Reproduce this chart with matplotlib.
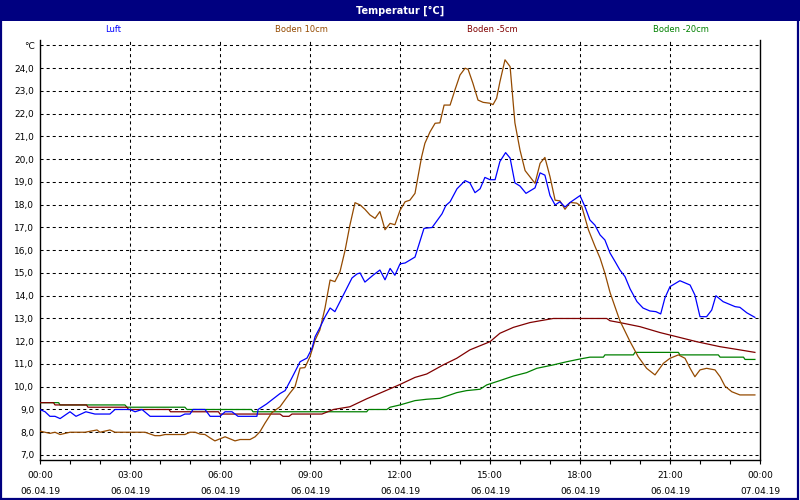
import matplotlib
matplotlib.use("Agg")
import matplotlib.pyplot as plt
from matplotlib.patches import Rectangle

# hours since 06.04.19 00:00 and temperatures in degC
luft_h = [0, 0.17, 0.33, 0.5, 0.67, 1.0, 1.2, 1.53, 1.83, 2.33, 2.5, 3.0, 3.17, 3.4, 3.67, 4.67,
          4.83, 5.0, 5.1, 5.5, 5.67, 6.0, 6.17, 6.4, 6.6, 7.23, 7.27, 7.55, 8.0, 8.17, 8.4, 8.67,
          8.9, 9.07, 9.17, 9.33, 9.5, 9.67, 9.83, 10.1, 10.4, 10.57, 10.67, 10.83, 11.1, 11.33,
          11.5, 11.67, 11.83, 12.0, 12.17, 12.5, 12.8, 13.07, 13.4, 13.53, 13.67, 13.9, 14.17,
          14.33, 14.5, 14.67, 14.83, 15.0, 15.17, 15.33, 15.52, 15.67, 15.83, 16.0, 16.2, 16.5,
          16.67, 16.83, 17.0, 17.17, 17.33, 17.5, 17.67, 18.0, 18.17, 18.33, 18.5, 18.67, 18.83,
          19.0, 19.17, 19.33, 19.5, 19.67, 19.9, 20.1, 20.33, 20.53, 20.69, 20.83, 21.0, 21.33,
          21.67, 21.83, 22.0, 22.22, 22.39, 22.53, 22.77, 23.17, 23.33, 23.56, 23.83]
luft_v = [9.0, 8.9, 8.7, 8.7, 8.6, 8.9, 8.7, 8.9, 8.8, 8.8, 9.0, 9.0, 8.9, 9.0, 8.7, 8.7,
          8.8, 8.8, 9.0, 9.0, 8.7, 8.7, 8.9, 8.9, 8.7, 8.7, 9.0, 9.24, 9.7, 9.83, 10.4, 11.1,
          11.26, 11.7, 12.2, 12.6, 13.07, 13.46, 13.3, 14.0, 14.78, 14.96, 15.0, 14.6, 14.9, 15.13,
          14.7, 15.2, 14.9, 15.4, 15.44, 15.7, 16.96, 17.0, 17.6, 17.97, 18.13, 18.7, 19.06,
          18.96, 18.53, 18.7, 19.2, 19.1, 19.1, 19.9, 20.29, 20.05, 18.96, 18.82, 18.5, 18.74,
          19.4, 19.3, 18.4, 17.99, 18.13, 17.9, 18.1, 18.4, 17.9, 17.33, 17.1, 16.67, 16.45,
          15.88, 15.5, 15.13, 14.84, 14.3, 13.74, 13.46, 13.33, 13.3, 13.2, 13.9, 14.4, 14.66,
          14.47, 14.03, 13.08, 13.08, 13.37, 14.0, 13.74, 13.52, 13.49, 13.25, 13.05]

boden10_h = [0, 0.33, 0.5, 0.67, 1.0, 1.5, 1.9, 2.0, 2.33, 2.5, 3.5, 3.83, 4.0, 4.17, 4.83,
             5.0, 5.17, 5.33, 5.5, 5.67, 5.83, 6.17, 6.5, 6.67, 7.0, 7.17, 7.33, 7.5, 7.72, 8.0,
             8.33, 8.5, 8.67, 8.83, 9.0, 9.17, 9.33, 9.5, 9.67, 9.83, 10.0, 10.17, 10.33, 10.5,
             10.67, 10.83, 11.0, 11.17, 11.33, 11.5, 11.67, 11.83, 12.0, 12.17, 12.33, 12.5, 12.6,
             12.72, 12.83, 13.0, 13.17, 13.33, 13.47, 13.67, 13.83, 14.0, 14.17, 14.27, 14.43,
             14.6, 14.77, 15.0, 15.1, 15.22, 15.33, 15.5, 15.67, 15.83, 16.0, 16.17, 16.33, 16.5,
             16.67, 16.83, 17.0, 17.17, 17.33, 17.5, 17.67, 17.89, 18.06, 18.28, 18.5, 18.67,
             18.83, 19.0, 19.17, 19.33, 19.67, 19.94, 20.22, 20.5, 20.78, 21.0, 21.28, 21.5,
             21.67, 21.83, 22.0, 22.22, 22.5, 22.67, 22.83, 23.06, 23.33, 23.83]
boden10_v = [8.05, 7.95, 8.0, 7.9, 8.0, 8.0, 8.1, 8.0, 8.1, 8.0, 8.0, 7.85, 7.85, 7.9, 7.9,
             8.0, 8.0, 7.92, 7.9, 7.75, 7.62, 7.8, 7.62, 7.68, 7.68, 7.8, 8.02, 8.4, 8.85, 9.12,
             9.72, 10.0, 10.82, 10.84, 11.32, 12.05, 12.5, 13.46, 14.69, 14.62, 15.06, 16.0, 17.1,
             18.09, 17.99, 17.8, 17.55, 17.4, 17.7, 16.9, 17.18, 17.12, 17.75, 18.13, 18.2, 18.5,
             19.23, 20.1, 20.7, 21.2, 21.58, 21.6, 22.38, 22.38, 23.04, 23.7, 24.0, 23.95, 23.34,
             22.6, 22.5, 22.46, 22.4, 22.68, 23.4, 24.37, 24.07, 21.6, 20.4, 19.5, 19.23, 18.94,
             19.82, 20.08, 19.23, 18.2, 18.17, 17.8, 18.1, 18.07, 17.92, 16.9, 16.17, 15.65,
             14.99, 14.15, 13.5, 12.9, 11.98, 11.32, 10.81, 10.52, 11.03, 11.25, 11.4, 11.25,
             10.81, 10.44, 10.74, 10.81, 10.74, 10.44, 10.03, 9.78, 9.64, 9.64]

boden5_h = [0, 0.45, 0.5, 1.55, 1.6, 2.9, 2.95, 4.3, 4.35, 5.95, 6.0, 8.0, 8.1, 8.3, 8.4, 9.4,
            9.78, 10.33, 10.89, 11.44, 12.0, 12.5, 12.89, 13.44, 13.89, 14.33, 15.0, 15.33,
            15.78, 16.33, 16.67, 17.11, 18.67, 18.89, 19.0, 19.33, 20.0, 20.67, 21.22, 21.89,
            22.67, 23.33, 23.83]
boden5_v = [9.3, 9.3, 9.2, 9.2, 9.1, 9.1, 9.0, 9.0, 8.9, 8.9, 8.8, 8.8, 8.7, 8.7, 8.8, 8.8,
            9.0, 9.12, 9.47, 9.78, 10.1, 10.41, 10.56, 10.96, 11.25, 11.62, 11.98, 12.35,
            12.61, 12.82, 12.9, 13.0, 13.0, 13.0, 12.9, 12.82, 12.64, 12.38, 12.2, 11.98,
            11.76, 11.62, 11.51]

boden20_h = [0, 0.62, 0.67, 2.83, 2.9, 4.83, 4.9, 7.05, 7.1, 10.89, 10.95, 11.56, 11.67, 12.0,
             12.5, 12.89, 13.33, 13.67, 13.89, 14.22, 14.67, 14.89, 15.33, 15.78, 16.22, 16.56,
             17.11, 17.56, 18.0, 18.33, 18.78, 18.83, 19.78, 19.83, 21.28, 21.33, 22.61, 22.67,
             23.45, 23.5, 23.83]
boden20_v = [9.3, 9.3, 9.2, 9.2, 9.1, 9.1, 9.0, 9.0, 8.9, 8.9, 9.0, 9.0, 9.1, 9.2,
             9.39, 9.45, 9.49, 9.64, 9.74, 9.83, 9.89, 10.08, 10.27, 10.47, 10.62, 10.81,
             10.96, 11.1, 11.22, 11.3, 11.3, 11.4, 11.4, 11.51, 11.51, 11.4, 11.4, 11.3,
             11.3, 11.2, 11.2]

series_names = ["Luft", "Boden 10cm", "Boden -5cm", "Boden -20cm"]
series_colors = ["#0000ff", "#944a00", "#800000", "#008000"]

x_ticks = [0, 3, 6, 9, 12, 15, 18, 21, 24]
x_labels = ["00:00\n06.04.19", "03:00\n06.04.19", "06:00\n06.04.19", "09:00\n06.04.19",
            "12:00\n06.04.19", "15:00\n06.04.19", "18:00\n06.04.19", "21:00\n06.04.19",
            "00:00\n07.04.19"]
y_ticks = list(range(7, 26))
y_labels = ["%d,0" % v for v in range(7, 25)] + ["°C"]

plt.rcParams['lines.scale_dashes'] = False
fig = plt.figure(figsize=(8, 5), dpi=100)
fig.patch.set_facecolor("white")

# title bar and window border
fig.add_artist(Rectangle((0, 1 - 21 / 500), 1, 21 / 500, transform=fig.transFigure,
                         facecolor="#000080", edgecolor="none"))
fig.add_artist(Rectangle((0.001, 0.002), 0.997, 0.99, transform=fig.transFigure,
                         facecolor="none", edgecolor="#000080", linewidth=1.6))
fig.text(0.5, 1 - 10.5 / 500, "Temperatur [°C]", color="white", fontsize=7,
         fontweight="bold", ha="center", va="center")

# legend labels as coloured text
legend_x = [113, 301, 492, 681]
for name, col, lx in zip(series_names, series_colors, legend_x):
    fig.text(lx / 800, 1 - 30 / 500, name, color=col, fontsize=6, ha="center", va="center")

ax = fig.add_axes([40 / 800, 40 / 500, 720 / 800, 420 / 500])
ax.set_xlim(0, 24)
ax.set_ylim(6.78, 25.24)

dash = (0, (2.2, 2.2))
for v in y_ticks:
    ax.axhline(v, color="black", lw=0.75, ls=dash, zorder=1)
for h in x_ticks[1:-1]:
    ax.axvline(h, color="black", lw=0.75, ls=dash, zorder=1)

ax.plot(boden20_h, boden20_v, color=series_colors[3], lw=0.9, zorder=3)
ax.plot(boden5_h, boden5_v, color=series_colors[2], lw=0.9, zorder=3)
ax.plot(boden10_h, boden10_v, color=series_colors[1], lw=0.9, zorder=3)
ax.plot(luft_h, luft_v, color=series_colors[0], lw=0.9, zorder=3)

ax.set_xticks(x_ticks)
ax.set_xticklabels(x_labels, fontsize=6.5, linespacing=2.0)
ax.set_xticks(range(25), minor=True)
ax.tick_params(axis="x", which="both", direction="out", length=3, width=0.8, pad=5)
ax.set_yticks(y_ticks)
ax.set_yticklabels(y_labels, fontsize=6.5)
ax.tick_params(axis="y", length=0, pad=4)

ax.spines["top"].set_visible(False)
for s in ["left", "bottom", "right"]:
    ax.spines[s].set_linewidth(1.0)

fig.savefig("out.png", dpi=100)
